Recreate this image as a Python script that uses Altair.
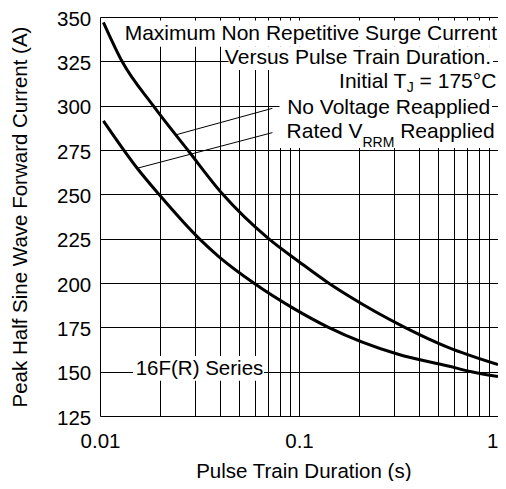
import altair as alt
import pandas as pd

FONT = "Liberation Sans, Arial, sans-serif"
FS = 20.5      # axis labels / titles
FA = 21        # annotation text
SUB = 14       # subscripts

# ---- data ----
no_volt_x = [0.0104, 0.0129, 0.0185, 0.0276, 0.0414, 0.0703, 0.1, 0.1406, 0.177, 0.34, 0.561, 1.0]
no_volt_y = [347, 325, 300, 275, 250, 225, 212, 200, 192.8, 175, 163.7, 154]

rated_x = [0.0104, 0.01538, 0.01977, 0.0315, 0.0395, 0.0592, 0.0938, 0.1406, 0.315, 0.561, 0.735, 1.0]
rated_y = [291.4, 264.7, 250, 225, 214.9, 200, 185.7, 175, 159.8, 153.2, 150, 147.2]

x_ticks = [0.01, 0.02, 0.03, 0.04, 0.05, 0.06, 0.07, 0.08, 0.09,
           0.1, 0.2, 0.3, 0.4, 0.5, 0.6, 0.7, 0.8, 0.9, 1]
y_ticks = [125, 150, 175, 200, 225, 250, 275, 300, 325, 350]

# leader lines (data coordinates)
lead_x = [0.02396, 0.01538]
lead_y = [283.5, 264.7]
lead_x2 = [0.0735, 0.0735]
lead_y2 = [298.5, 284.8]

W, H = 398, 399

curves = pd.DataFrame({
    "t": no_volt_x + rated_x,
    "i": no_volt_y + rated_y,
    "s": ["No Voltage Reapplied"] * len(no_volt_x) + ["Rated VRRM Reapplied"] * len(rated_x),
})
leads = pd.DataFrame({"x": lead_x, "y": lead_y, "x2": lead_x2, "y2": lead_y2})

xscale = alt.Scale(type="log", domain=[0.01, 1], nice=False)
yscale = alt.Scale(domain=[125, 350], nice=False, zero=False)

xaxis = alt.Axis(
    values=x_ticks,
    labelExpr="datum.value == 0.01 ? '0.01' : datum.value == 0.1 ? '0.1' : datum.value == 1 ? '1' : ''",
    labelAlign={"condition": {"test": "datum.value == 1", "value": "right"}, "value": "center"},
    grid=True, gridColor="#000000", gridWidth=1, gridOpacity=1,
    ticks=False, domain=False, labelOverlap=False, labelFlush=False,
    labelFont=FONT, labelFontSize=FS, labelColor="#000000",
    labelBaseline="alphabetic", labelPadding=31.5,
    title="Pulse Train Duration (s)", titleFont=FONT, titleFontSize=FS,
    titleFontWeight="normal", titleColor="#000000",
    titleX=203.3, titleY=61, titleAlign="center", titleBaseline="alphabetic",
)
yaxis = alt.Axis(
    values=y_ticks,
    grid=True, gridColor="#000000", gridWidth=1, gridOpacity=1,
    ticks=False, domain=False, labelOverlap=False, labelFlush=False,
    labelFont=FONT, labelFontSize=FS, labelColor="#000000",
    labelPadding=9.3, labelBaseline="alphabetic", labelOffset=8,
    title="Peak Half Sine Wave Forward Current (A)", titleFont=FONT, titleFontSize=FS,
    titleFontWeight="normal", titleColor="#000000",
    titleAngle=270, titleX=-73.5, titleY=199.5, titleAlign="center", titleBaseline="alphabetic",
)

base_lines = alt.Chart(curves).mark_line(
    color="#000000", strokeWidth=3, interpolate="monotone"
).encode(
    x=alt.X("t:Q", scale=xscale, axis=xaxis),
    y=alt.Y("i:Q", scale=yscale, axis=yaxis),
    detail="s:N",
)

one = pd.DataFrame({"a": [0]})

# white backgrounds behind annotation text (pixel boxes: x, x2, y, y2)
boxes = [
    (24, 397.3, 3.5, 29.7),
    (128.5, 393, 29.7, 53),
    (179.5, 397.3, 53, 77),
    (179.5, 392, 77, 102),
    (179.5, 395, 102, 131),
    (33, 164, 339, 363.7),
]
box_layers = [
    alt.Chart(one).mark_rect(fill="#ffffff", strokeWidth=0).encode(
        x=alt.value(b[0]), x2=alt.value(b[1]), y=alt.value(b[2]), y2=alt.value(b[3])
    )
    for b in boxes
]

leader = alt.Chart(leads).mark_rule(color="#000000", strokeWidth=1).encode(
    x="x:Q", y="y:Q", x2="x2:Q", y2="y2:Q"
)

# Arial / Liberation Sans advance widths (units per 1000 em)
ADV = {" ": 278, "=": 584, "1": 556, "7": 556, "5": 556, "°": 400, "C": 722,
       "R": 722, "e": 556, "a": 556, "p": 556, "l": 222, "i": 222, "d": 556,
       "M": 833, "J": 500, "I": 278, "n": 556, "t": 278, "T": 611, "V": 667}


def w(s, size):
    return sum(ADV[c] for c in s) * size / 1000.0


# line 3: Initial T_J = 175°C
r3 = 396.3
a3, b3, c3 = "Initial T", "J", "= 175°C"
tot3 = w(a3, FA) + w(b3, SUB) + w(" " + c3, FA)
x3a = r3 - tot3
x3b = x3a + w(a3, FA)
x3c = x3b + w(b3, SUB) + w(" ", FA)

# line 5: Rated V_RRM Reapplied
r5 = 394.7
a5, b5, c5 = "Rated V", "RRM", "Reapplied"
tot5 = w(a5, FA) + w(b5, SUB) + w(" " + c5, FA)
x5a = r5 - tot5
x5b = x5a + w(a5, FA)
x5c = x5b + w(b5, SUB) + w(" ", FA)

texts = [
    ("Maximum Non Repetitive Surge Current", 397, 23, FA, "right"),
    ("Versus Pulse Train Duration.", 391, 46.5, FA, "right"),
    (a3, x3a, 71, FA, "left"),
    (b3, x3b, 74.5, SUB, "left"),
    (c3, x3c, 71, FA, "left"),
    ("No Voltage Reapplied", 390.3, 97, FA, "right"),
    (a5, x5a, 120.5, FA, "left"),
    (b5, x5b, 130, SUB, "left"),
    (c5, x5c, 120.5, FA, "left"),
    ("16F(R) Series", 35.7, 358, FS, "left"),
]
text_layers = [
    alt.Chart(one).mark_text(
        text=t, align=al, baseline="alphabetic", font=FONT, fontSize=sz, color="#000000"
    ).encode(x=alt.value(xx), y=alt.value(yy))
    for (t, xx, yy, sz, al) in texts
]

chart = alt.layer(base_lines, *box_layers, leader, *text_layers).properties(
    width=W, height=H,
    autosize=alt.AutoSizeParams(type="none"),
    padding={"left": 92, "top": 9, "right": 0, "bottom": 65},
).configure_view(
    stroke="#000000", strokeWidth=1.2
).configure(background="#ffffff")

chart.save("out.html", embed_options={"renderer": "svg", "actions": False})
